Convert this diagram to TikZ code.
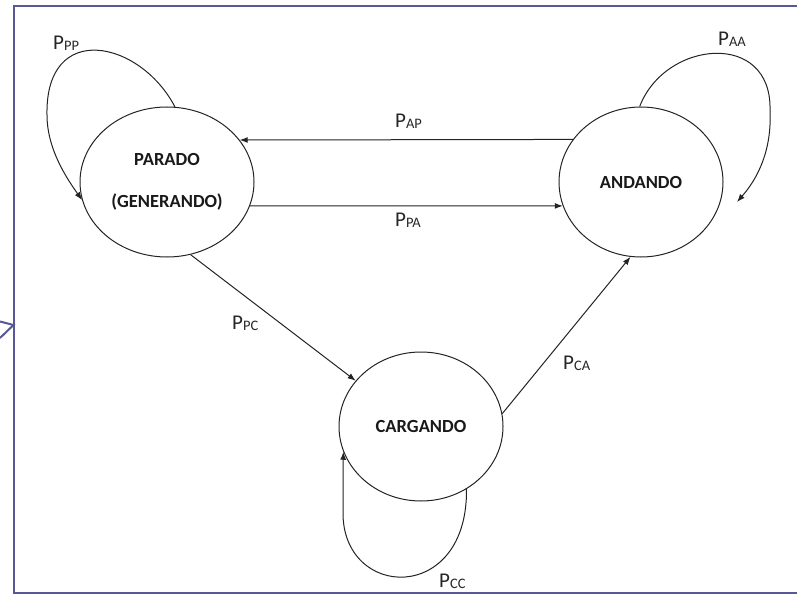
\documentclass[tikz,border=0pt]{standalone}
\usepackage{fontspec}
\setmainfont{Carlito}
\usetikzlibrary{arrows.meta,shapes.geometric}
\definecolor{framec}{RGB}{88,88,150}
\definecolor{linec}{RGB}{35,35,35}
\newcommand\plab[2]{{\fontsize{21}{21}\selectfont #1}{\fontsize{14.5}{14.5}\selectfont\raisebox{-1pt}{#2}}}
\tikzset{
  state/.style={draw=linec, line width=1pt, ellipse, inner sep=0pt,
    font=\fontsize{18.5}{42}\selectfont\bfseries, align=center, text=black!90},
  arr/.style={draw=linec, line width=1pt, -{Latex[length=8pt,width=6pt]}},
  plabel/.style={anchor=base west, inner sep=0pt, text=black!85},
  framel/.style={draw=framec, line width=2pt}
}
\begin{document}
\begin{tikzpicture}[x=1pt,y=-1pt]
\useasboundingbox (0,0) rectangle (797,596);
% frame
\draw[framel] (797,6) -- (14,6) -- (14,593) -- (797,593);
\draw[framel, line join=miter] (0,321.5) -- (13.5,325) -- (0,338);
% states
\node[state, minimum width=174pt, minimum height=150pt] (P) at (167,182) {PARADO\\(GENERANDO)};
\node[state, minimum width=164pt, minimum height=150pt] (A) at (641,182) {ANDANDO};
\node[state, minimum width=164pt, minimum height=149pt] (C) at (421,426.5) {CARGANDO};
\coordinate (aaend) at (737,202);
% straight transitions
\draw[arr] (A.148) -- (P.30.7);
\draw[arr] (P.-16.2) -- (A.197.2);
\draw[arr] (P.-72.7) -- (C.145);
\draw[arr] (C.9.7) -- (A.262.4);
% loops
\draw[arr] (P.84) .. controls (140,40) and (45,20) .. (47,115)
  .. controls (47,150) and (68,180) .. (P.192);
\draw[arr] (A.91.5) .. controls (665,40) and (772,30) .. (770,110)
  .. controls (772,150) and (758,178) .. (aaend);
\draw[arr] (C.-54.3) .. controls (468,605) and (342,600) .. (343,512)
  .. controls (343,490) and (343,470) .. (C.198.7);
% labels
\node[plabel] (lpp) at (53,50) {\plab{P}{PP}};
\node[plabel] (laa) at (718,46) {\plab{P}{AA}};
\node[plabel] (lap) at (395,128) {\plab{P}{AP}};
\node[plabel] (lpa) at (395,226) {\plab{P}{PA}};
\node[plabel] (lpc) at (232,329) {\plab{P}{PC}};
\node[plabel] (lca) at (563,369) {\plab{P}{CA}};
\node[plabel] (lcc) at (439,587) {\plab{P}{CC}};
\end{tikzpicture}
\end{document}
